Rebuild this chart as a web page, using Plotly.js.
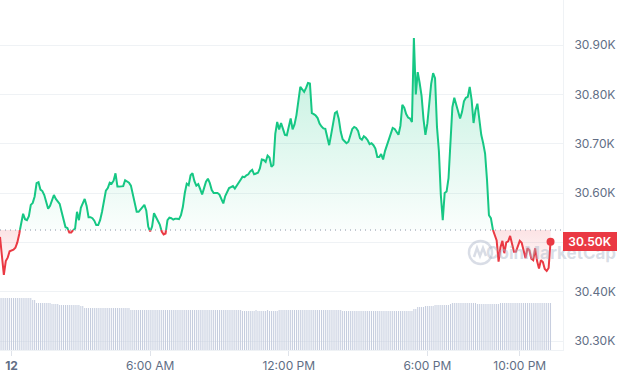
<!DOCTYPE html>
<html><head><meta charset="utf-8">
<script src="https://cdn.plot.ly/plotly-3.0.1.min.js"></script>
<style>html,body{margin:0;padding:0;background:#fff}#chart{width:619px;height:376px}</style>
</head><body><div id="chart"></div>
<script>
// ---- data ----
const startTime = '2023-07-11T23:30:00Z';
const priceStepMinutes = 5;
const prices = [
30511,30470,30434,30462,30469,30482,30484,30485,30489,30500,
30517,30540,30558,30547,30545,30553,30576,30580,30593,30620,
30622,30607,30604,30596,30579,30568,30574,30586,30596,30588,
30584,30578,30562,30545,30531,30529,30520,30520,30525,30528,
30562,30545,30570,30581,30588,30574,30551,30551,30549,30544,
30535,30535,30545,30562,30586,30605,30610,30621,30619,30625,
30640,30613,30613,30613,30614,30626,30624,30621,30615,30598,
30576,30562,30562,30566,30572,30576,30564,30532,30522,30532,
30559,30551,30544,30536,30522,30516,30518,30545,30550,30549,
30546,30548,30548,30547,30555,30572,30600,30619,30616,30636,
30640,30624,30615,30618,30608,30597,30610,30623,30629,30620,
30606,30600,30600,30600,30597,30589,30579,30594,30604,30610,
30612,30614,30609,30616,30623,30627,30633,30632,30636,30638,
30644,30647,30638,30639,30641,30650,30668,30667,30663,30676,
30672,30653,30657,30720,30744,30729,30742,30730,30718,30717,
30736,30751,30729,30739,30758,30782,30815,30810,30805,30813,
30823,30822,30762,30760,30757,30752,30741,30735,30731,30730,
30711,30697,30718,30745,30762,30765,30750,30724,30709,30705,
30701,30704,30718,30730,30734,30732,30726,30711,30708,30715,
30712,30707,30699,30701,30697,30690,30673,30673,30679,30668,
30685,30697,30706,30722,30732,30730,30723,30718,30736,30779,
30773,30760,30753,30751,30744,30914,30800,30845,30823,30797,
30750,30718,30741,30779,30822,30843,30833,30734,30685,30596,
30545,30600,30603,30630,30714,30774,30793,30780,30763,30751,
30764,30786,30793,30795,30815,30789,30742,30768,30781,30746,
30718,30701,30680,30626,30555,30549,30526,30514,30504,30461,
30490,30503,30478,30500,30502,30513,30496,30481,30481,30491,
30503,30499,30480,30468,30488,30484,30467,30464,30488,30462,
30447,30464,30460,30446,30442,30448,30501
];
const volumeStepMinutes = 5;
const volumes = [
52,52,52,52,52,52,52,52,52,52,52,52,52,52,52,52,52,
50,50,
47,47,47,47,47,47,47,47,
46,46,46,46,
45,45,45,45,45,45,45,45,45,45,45,
44,44,
42,42,42,42,42,42,42,42,42,42,42,42,42,42,42,42,42,42,42,42,42,42,42,42,
40,40,40,40,40,40,40,40,40,40,40,40,40,40,40,40,40,40,40,40,40,40,40,40,40,40,40,40,40,
40,40,40,40,40,40,40,40,40,40,40,40,40,40,40,40,40,40,40,40,40,40,40,40,40,40,40,40,40,
39,39,39,39,39,39,39,40,39,39,39,39,39,40,39,39,39,39,39,
40,40,40,40,40,40,40,40,40,40,40,40,40,40,40,40,40,40,40,40,40,40,40,40,40,40,40,40,40,40,40,40,40,
39,39,39,39,39,39,39,39,39,39,39,39,39,39,39,39,39,39,39,39,39,39,39,39,39,39,39,39,39,39,39,39,39,39,39,39,39,
41,41,
43,43,43,43,
44,44,44,44,44,
45,45,45,45,45,45,45,45,
46,
47,47,47,47,47,47,47,47,47,47,47,47,47,
46,46,46,46,46,46,46,46,46,46,46,46,
47,47,47,47,47,47,47,47,47,47,47,47,47,47,47,47,47,47,47,47,47,47,47,47,47,47,47
];
const baselinePrice = 30525;
const yTickValues = [30300,30400,30500,30600,30700,30800,30900];
const yTickLabels = ['30.30K','30.40K','','30.60K','30.70K','30.80K','30.90K'];
const xTickTimes = ['2023-07-12 00:00:00','2023-07-12 06:00:00','2023-07-12 12:00:00','2023-07-12 18:00:00','2023-07-12 22:00:00'];
const xTickLabels = ['<b>12</b>','6:00 AM','12:00 PM','6:00 PM','10:00 PM'];
const lastPriceLabel = '30.50K';

// ---- build ----
const GREEN = '#16c784', RED = '#ea3943';
const t0 = Date.parse(startTime);
const priceTimes = prices.map((_, i) => t0 + i * priceStepMinutes * 60000);
const volumeTimes = volumes.map((_, i) => t0 + i * volumeStepMinutes * 60000);

const X = [], Y = [];
for (let i = 0; i < prices.length; i++) {
  if (i > 0) {
    const p0 = prices[i - 1], p1 = prices[i];
    if ((p0 - baselinePrice) * (p1 - baselinePrice) < 0) {
      const f = (baselinePrice - p0) / (p1 - p0);
      X.push(priceTimes[i - 1] + f * (priceTimes[i] - priceTimes[i - 1]));
      Y.push(baselinePrice);
    }
  }
  X.push(priceTimes[i]); Y.push(prices[i]);
}
const upLine = Y.map(v => v >= baselinePrice ? v : null);
const downLine = Y.map(v => v <= baselinePrice ? v : null);
const upFill = Y.map(v => Math.max(v, baselinePrice));
const downFill = Y.map(v => Math.min(v, baselinePrice));
const base = Y.map(() => baselinePrice);
const maxP = Math.max(...prices), minP = Math.min(...prices);
const lastT = priceTimes[priceTimes.length - 1], lastP = prices[prices.length - 1];

const traces = [
  {x: volumeTimes, y: volumes, type: 'bar', yaxis: 'y2', width: volumeStepMinutes * 60000 * 0.5,
   marker: {color: '#c3cbdd', line: {width: 0}}, hoverinfo: 'skip'},
  {x: X, y: base, mode: 'lines', line: {width: 0}, hoverinfo: 'skip'},
  {x: X, y: upFill, mode: 'lines', line: {width: 0}, fill: 'tonexty',
   fillgradient: {type: 'vertical', start: baselinePrice, stop: maxP,
     colorscale: [[0, 'rgba(22,199,132,0.02)'], [1, 'rgba(22,199,132,0.28)']]}, hoverinfo: 'skip'},
  {x: X, y: base, mode: 'lines', line: {width: 0}, hoverinfo: 'skip'},
  {x: X, y: downFill, mode: 'lines', line: {width: 0}, fill: 'tonexty',
   fillgradient: {type: 'vertical', start: minP, stop: baselinePrice,
     colorscale: [[0, 'rgba(234,57,67,0.01)'], [1, 'rgba(234,57,67,0.14)']]}, hoverinfo: 'skip'},
  {x: X, y: upLine, mode: 'lines', line: {color: GREEN, width: 2}, connectgaps: false},
  {x: X, y: downLine, mode: 'lines', line: {color: RED, width: 2}, connectgaps: false},
  {x: [lastT], y: [lastP], mode: 'markers', marker: {color: RED, size: 8}}
];

const pxX = 563, pxY = 350;
const layout = {
  width: 619, height: 376,
  margin: {l: 0, r: 56, t: 0, b: 26},
  paper_bgcolor: '#fff', plot_bgcolor: '#fff',
  showlegend: false,
  font: {family: 'Inter, "Noto Sans", sans-serif', color: '#58667e', size: 12},
  xaxis: {type: 'date', range: ['2023-07-11 23:30:00', '2023-07-12 23:52:20'],
    tickvals: xTickTimes, ticktext: xTickLabels, showgrid: false, zeroline: false,
    ticks: 'outside', ticklen: 5, tickcolor: '#dfe3ea', showline: true, linecolor: '#eff2f5', linewidth: 1,
    tickfont: {size: 12, color: '#616e85'}},
  yaxis: {side: 'right', range: [30281.8, 30991.3], tickvals: yTickValues, ticktext: yTickLabels,
    showgrid: true, gridcolor: '#eff2f5', zeroline: false, ticks: '', showline: true, linecolor: '#eff2f5',
    ticklabelstandoff: 8, tickfont: {size: 12, color: '#616e85'}},
  yaxis2: {overlaying: 'y', range: [0, 350], visible: false, showgrid: false, zeroline: false},
  shapes: [
    {type: 'line', xref: 'paper', x0: 0, x1: 1, yref: 'y', y0: baselinePrice, y1: baselinePrice,
     line: {color: '#8a93a6', width: 1, dash: '1px,4px'}},
    {type: 'circle', xref: 'paper', yref: 'paper', x0: 469 / pxX, x1: 492 / pxX, y0: 1 - 264 / pxY, y1: 1 - 241 / pxY,
     line: {color: 'rgba(170,180,200,0.45)', width: 2.5}},
    {type: 'path', xref: 'paper', yref: 'paper',
     path: `M ${474/pxX} ${1-257/pxY} L ${477/pxX} ${1-248/pxY} L ${480/pxX} ${1-256/pxY} L ${483/pxX} ${1-248/pxY} L ${486/pxX} ${1-256/pxY}`,
     line: {color: 'rgba(170,180,200,0.45)', width: 2.5}}
  ],
  annotations: [
    {xref: 'paper', yref: 'paper', x: 551 / pxX, y: 1 - 253 / pxY, xanchor: 'center', yanchor: 'middle',
     text: 'CoinMarketCap', showarrow: false,
     font: {family: 'Inter, sans-serif', size: 17, weight: 700, color: 'rgba(170,180,200,0.45)'}},
    {xref: 'paper', yref: 'y', x: 1, y: lastP, xanchor: 'left', yanchor: 'middle', text: lastPriceLabel,
     showarrow: false, bgcolor: RED, borderpad: 3, borderwidth: 0, width: 48, height: 13,
     font: {family: 'Inter, sans-serif', size: 12, weight: 600, color: '#fff'}}
  ]
};
Plotly.newPlot('chart', traces, layout, {displayModeBar: false, staticPlot: true});
</script></body></html>
